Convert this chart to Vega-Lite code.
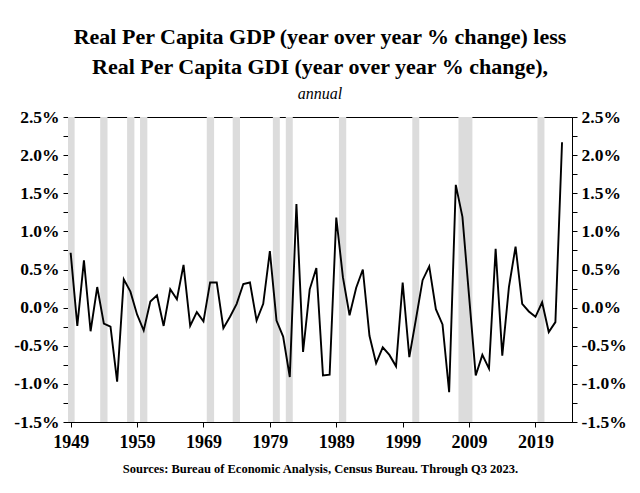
{
  "$schema": "https://vega.github.io/schema/vega-lite/v6.json",
  "width": 504,
  "height": 305,
  "autosize": "none",
  "padding": {"left": 68, "top": 117, "right": 68, "bottom": 71},
  "background": "white",
  "title": {
    "text": ["Real Per Capita GDP (year over year % change) less", "Real Per Capita GDI  (year over year % change),"],
    "subtitle": "annual",
    "anchor": "middle",
    "font": "Liberation Serif",
    "fontSize": 22,
    "fontWeight": "bold",
    "lineHeight": 30,
    "color": "black",
    "subtitleFont": "Liberation Serif",
    "subtitleFontSize": 16,
    "subtitleFontStyle": "italic",
    "subtitleColor": "black",
    "subtitlePadding": 7,
    "offset": 5
  },
  "config": {
    "view": {"stroke": "black", "strokeWidth": 1},
    "axis": {
      "labelFont": "Liberation Serif",
      "labelFontWeight": "bold",
      "labelColor": "black",
      "domainColor": "black",
      "tickColor": "black",
      "grid": false
    }
  },
  "datasets": {
    "series": [
      {"year": 1949, "diff": 0.72}, {"year": 1950, "diff": -0.24}, {"year": 1951, "diff": 0.62}, {"year": 1952, "diff": -0.31},
      {"year": 1953, "diff": 0.27}, {"year": 1954, "diff": -0.21}, {"year": 1955, "diff": -0.25}, {"year": 1956, "diff": -0.97},
      {"year": 1957, "diff": 0.37}, {"year": 1958, "diff": 0.21}, {"year": 1959, "diff": -0.09}, {"year": 1960, "diff": -0.30},
      {"year": 1961, "diff": 0.08}, {"year": 1962, "diff": 0.16}, {"year": 1963, "diff": -0.24}, {"year": 1964, "diff": 0.24},
      {"year": 1965, "diff": 0.11}, {"year": 1966, "diff": 0.56}, {"year": 1967, "diff": -0.24}, {"year": 1968, "diff": -0.06},
      {"year": 1969, "diff": -0.18}, {"year": 1970, "diff": 0.33}, {"year": 1971, "diff": 0.33}, {"year": 1972, "diff": -0.27},
      {"year": 1973, "diff": -0.12}, {"year": 1974, "diff": 0.05}, {"year": 1975, "diff": 0.31}, {"year": 1976, "diff": 0.33},
      {"year": 1977, "diff": -0.17}, {"year": 1978, "diff": 0.05}, {"year": 1979, "diff": 0.74}, {"year": 1980, "diff": -0.17},
      {"year": 1981, "diff": -0.38}, {"year": 1982, "diff": -0.91}, {"year": 1983, "diff": 1.36}, {"year": 1984, "diff": -0.58},
      {"year": 1985, "diff": 0.24}, {"year": 1986, "diff": 0.52}, {"year": 1987, "diff": -0.89}, {"year": 1988, "diff": -0.88},
      {"year": 1989, "diff": 1.18}, {"year": 1990, "diff": 0.40}, {"year": 1991, "diff": -0.10}, {"year": 1992, "diff": 0.26},
      {"year": 1993, "diff": 0.50}, {"year": 1994, "diff": -0.37}, {"year": 1995, "diff": -0.73}, {"year": 1996, "diff": -0.52},
      {"year": 1997, "diff": -0.62}, {"year": 1998, "diff": -0.77}, {"year": 1999, "diff": 0.33}, {"year": 2000, "diff": -0.65},
      {"year": 2001, "diff": -0.15}, {"year": 2002, "diff": 0.36}, {"year": 2003, "diff": 0.54}, {"year": 2004, "diff": -0.02},
      {"year": 2005, "diff": -0.22}, {"year": 2006, "diff": -1.11}, {"year": 2007, "diff": 1.61}, {"year": 2008, "diff": 1.19},
      {"year": 2009, "diff": 0.15}, {"year": 2010, "diff": -0.89}, {"year": 2011, "diff": -0.62}, {"year": 2012, "diff": -0.80},
      {"year": 2013, "diff": 0.77}, {"year": 2014, "diff": -0.63}, {"year": 2015, "diff": 0.27}, {"year": 2016, "diff": 0.80},
      {"year": 2017, "diff": 0.05}, {"year": 2018, "diff": -0.05}, {"year": 2019, "diff": -0.12}, {"year": 2020, "diff": 0.07},
      {"year": 2021, "diff": -0.32}, {"year": 2022, "diff": -0.19}, {"year": 2023, "diff": 2.17}
    ],
    "recessions": [
      {"start": 1948.6, "end": 1949.6}, {"start": 1953.45, "end": 1954.55}, {"start": 1957.5, "end": 1958.6},
      {"start": 1959.45, "end": 1960.55}, {"start": 1969.5, "end": 1970.6}, {"start": 1973.4, "end": 1974.5},
      {"start": 1979.45, "end": 1980.5}, {"start": 1981.4, "end": 1982.45}, {"start": 1989.4, "end": 1990.5},
      {"start": 2000.45, "end": 2001.5}, {"start": 2007.4, "end": 2009.5}, {"start": 2019.3, "end": 2020.35}
    ]
  },
  "resolve": {"axis": {"y": "independent"}},
  "layer": [
    {
      "data": {"name": "recessions"},
      "mark": {"type": "rect", "color": "#dcdcdc"},
      "encoding": {
        "x": {
          "field": "start", "type": "quantitative",
          "scale": {"domain": [1948.6, 2024.5], "nice": false, "zero": false},
          "axis": {
            "values": [1949, 1959, 1969, 1979, 1989, 1999, 2009, 2019],
            "format": "d",
            "labelFontSize": 18,
            "tickSize": 5,
            "labelPadding": 6,
            "title": "Sources: Bureau of Economic Analysis, Census Bureau. Through Q3 2023.",
            "titleFont": "Liberation Serif",
            "titleFontSize": 12.5,
            "titleFontWeight": "bold",
            "titleColor": "black",
            "titlePadding": 11
          }
        },
        "x2": {"field": "end"}
      }
    },
    {
      "data": {"name": "series"},
      "mark": {"type": "line", "color": "black", "strokeWidth": 1.9},
      "encoding": {
        "x": {
          "field": "year", "type": "quantitative",
          "scale": {"domain": [1948.6, 2024.5], "nice": false, "zero": false},
          "axis": {
            "values": [1949, 1959, 1969, 1979, 1989, 1999, 2009, 2019],
            "format": "d",
            "labelFontSize": 18,
            "tickSize": 5,
            "labelPadding": 6,
            "title": "Sources: Bureau of Economic Analysis, Census Bureau. Through Q3 2023.",
            "titleFont": "Liberation Serif",
            "titleFontSize": 12.5,
            "titleFontWeight": "bold",
            "titleColor": "black",
            "titlePadding": 11
          }
        },
        "y": {
          "field": "diff", "type": "quantitative",
          "scale": {"domain": [-1.5, 2.5], "nice": false},
          "axis": {
            "orient": "left",
            "title": null,
            "values": [-1.5, -1.25, -1, -0.75, -0.5, -0.25, 0, 0.25, 0.5, 0.75, 1, 1.25, 1.5, 1.75, 2, 2.25, 2.5],
            "labelExpr": "abs(round(datum.value * 4)) % 2 == 0 ? (datum.value < 0 ? '-' : '') + format(abs(datum.value), '.1f') + '%' : ''",
            "labelFontSize": 17.5,
            "tickSize": 5,
            "labelPadding": 4
          }
        }
      }
    },
    {
      "mark": {"type": "rule", "color": "black", "strokeWidth": 1},
      "encoding": {
        "y": {
          "datum": 0, "type": "quantitative",
          "scale": {"domain": [-1.5, 2.5], "nice": false},
          "axis": {
            "orient": "right",
            "title": null,
            "values": [-1.5, -1.25, -1, -0.75, -0.5, -0.25, 0, 0.25, 0.5, 0.75, 1, 1.25, 1.5, 1.75, 2, 2.25, 2.5],
            "labelExpr": "abs(round(datum.value * 4)) % 2 == 0 ? (datum.value < 0 ? '-' : '') + format(abs(datum.value), '.1f') + '%' : ''",
            "labelFontSize": 17.5,
            "tickSize": 5,
            "labelPadding": 4
          }
        }
      }
    }
  ]
}
